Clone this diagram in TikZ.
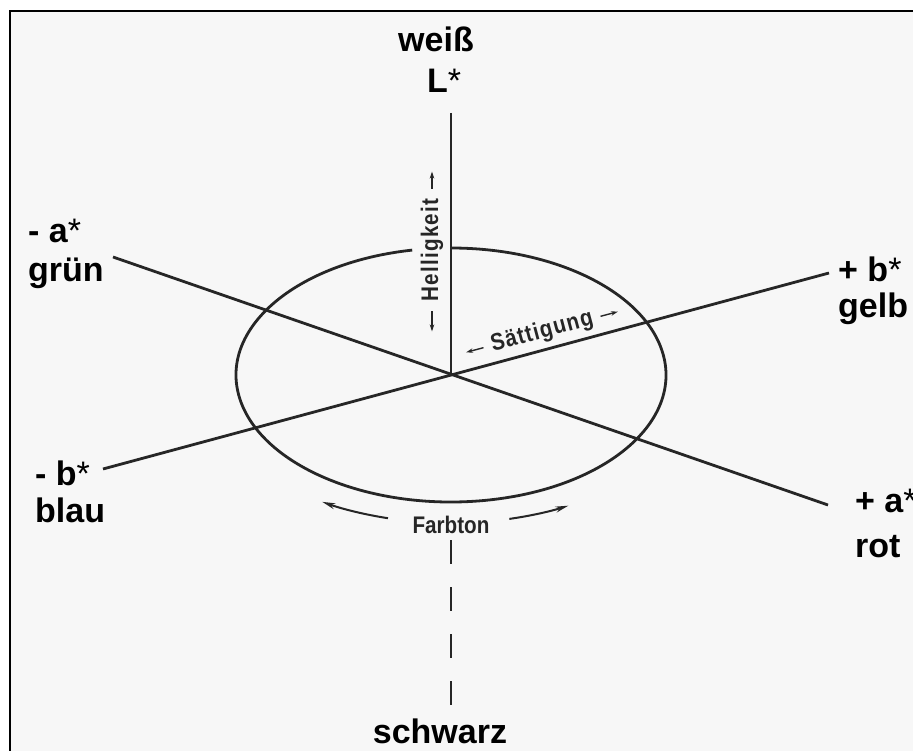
\documentclass[tikz,border=0pt]{standalone}
\usepackage{fontspec}
\setmainfont{Liberation Sans}
\newfontfamily\labcond[FakeStretch=0.86]{Liberation Sans}
\newfontfamily\labspaced[FakeStretch=0.86, LetterSpace=5]{Liberation Sans}
\usepackage{tikz}
\usepackage{xcolor}
\usetikzlibrary{arrows.meta, calc}
\definecolor{labline}{HTML}{262626}
\definecolor{labback}{HTML}{F7F7F7}

\tikzset{
  axisline/.style={labline, line width=2.8pt},
  biglabel/.style={font=\fontsize{34}{36}\selectfont\bfseries, inner sep=0pt},
  smalllabel/.style={font=\labcond\fontsize{24}{26}\selectfont\bfseries, text=labline, inner sep=0pt},
  spacedlabel/.style={smalllabel, font=\labspaced\fontsize{24}{26}\selectfont\bfseries},
  tinyarrow/.style={labline, line width=1.4pt, -{Stealth[length=7pt, width=4.5pt]}},
  huearrow/.style={labline, line width=2pt, -{Stealth[length=13pt, width=6pt]}},
}

\begin{document}
\begin{tikzpicture}[x=1pt, y=1pt]
\useasboundingbox (0,0) rectangle (913,-751);
\fill[white] (0,0) rectangle (913,-751);
\fill[labback] (10,-11) rectangle (913,-751);
\draw[black, line width=2.5pt] (10,-751) -- (10,-11) -- (913,-11);

% axes
\coordinate (O) at (451,-375);
\coordinate (Ltop) at (451,-113);
\coordinate (Lbot) at (451,-540);
\coordinate (Lend) at (451,-705);
\coordinate (aminus) at (113,-257);
\coordinate (aplus) at (828,-505);
\coordinate (bminus) at (103,-469);
\coordinate (bplus) at (829,-273);

\draw[axisline] (O) ++(100.4:215 and 127)
    arc[start angle=100.4, end angle=450, x radius=215, y radius=127];
\draw[axisline] (aminus) -- (aplus);
\draw[axisline] (bminus) -- (bplus);
\draw[axisline] (Ltop) -- (O);
\draw[axisline, dash pattern=on 24pt off 23pt] (Lbot) -- (Lend);

% axis labels
\node[biglabel, anchor=base] (weiss) at (436,-52) {weiß};
\node[biglabel, anchor=base] (Lstar) at (444,-93) {L{\mdseries*}};
\node[biglabel, anchor=base] (schwarz) at (440,-743) {schwarz};
\foreach \nm/\px/\pya/\pyb/\axis/\colname in {%
    gruen/28/243/282/- a/grün,
    blau/35/485/522/- b/blau,
    gelb/838/282/318/+ b/gelb,
    rot/855/512/557/+ a/rot}
{
    \node[biglabel, anchor=base west] (ax\nm) at (\px,-\pya) {\axis{\mdseries*}};
    \node[biglabel, anchor=base west] (col\nm) at (\px,-\pyb) {\colname};
}

% Helligkeit, Saettigung, Farbton
\node[spacedlabel, rotate=90] (hell) at (432,-250) {Helligkeit};
\draw[tinyarrow] ($(hell.east)!-10pt!(hell.center)$) -- ($(hell.east)!-27pt!(hell.center)$);
\draw[tinyarrow] ($(hell.west)!-10pt!(hell.center)$) -- ($(hell.west)!-30pt!(hell.center)$);

\node[spacedlabel, rotate=15] (sat) at (542,-332) {Sättigung};
\draw[tinyarrow] ($(sat.east)!-8pt!(sat.center)$) -- ($(sat.east)!-26pt!(sat.center)$);
\draw[tinyarrow] ($(sat.west)!-8pt!(sat.center)$) -- ($(sat.west)!-26pt!(sat.center)$);

\node[smalllabel, anchor=base] (farb) at (451,-533) {Farbton};
\draw[huearrow] (O) ++(255.4:250 and 148)
    arc[start angle=255.4, end angle=239, x radius=250, y radius=148];
\draw[huearrow] (O) ++(283.5:250 and 148)
    arc[start angle=283.5, end angle=298, x radius=250, y radius=148];
\end{tikzpicture}
\end{document}
